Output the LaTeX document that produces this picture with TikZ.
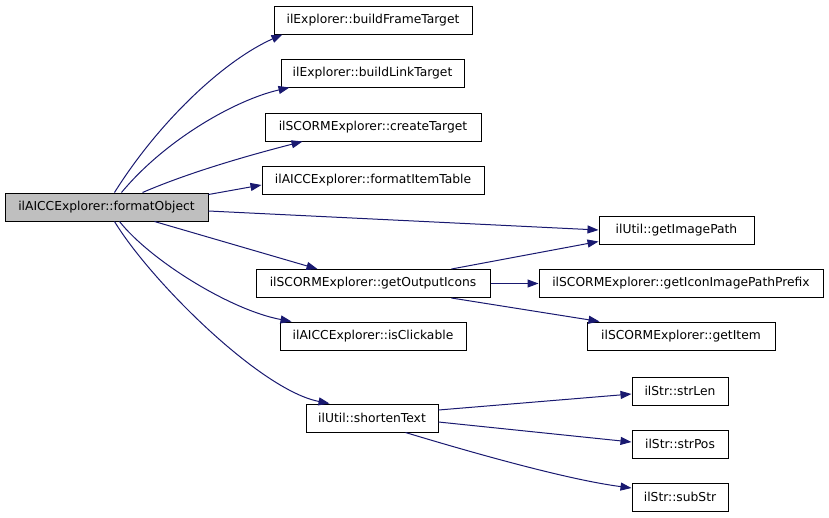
\documentclass[tikz,border=0pt]{standalone}
\usepackage{fontspec}
\setmainfont{DejaVu Sans}
\usetikzlibrary{arrows.meta,calc}
\definecolor{edgecol}{HTML}{191970}
\definecolor{rootfill}{HTML}{BFBFBF}
\begin{document}
\begin{tikzpicture}[x=1pt,y=-1pt,
  box/.style={draw=black,line width=1pt,fill=white,minimum height=28pt,inner sep=0pt,font=\fontsize{12.3}{14}\selectfont},
  edge/.style={draw=edgecol,line width=1pt,-{Triangle[length=11pt,width=8pt]}}]
\useasboundingbox (0,0) rectangle (829,517);
\node[box,fill=rootfill,minimum width=203pt] (fo) at (106.5,207) {ilAICCExplorer::formatObject};
\node[box,minimum width=198pt] (bft) at (373,20) {ilExplorer::buildFrameTarget};
\node[box,minimum width=183pt] (blt) at (372.5,73) {ilExplorer::buildLinkTarget};
\node[box,minimum width=216pt] (ct) at (373,127) {ilSCORMExplorer::createTarget};
\node[box,minimum width=222pt] (fit) at (373,180) {ilAICCExplorer::formatItemTable};
\node[box,minimum width=155pt] (gip) at (676.5,230) {ilUtil::getImagePath};
\node[box,minimum width=234pt] (goi) at (373,283.5) {ilSCORMExplorer::getOutputIcons};
\node[box,minimum width=284pt] (giipp) at (681,283.5) {ilSCORMExplorer::getIconImagePathPrefix};
\node[box,minimum width=186pt] (ic) at (373,336) {ilAICCExplorer::isClickable};
\node[box,minimum width=188pt] (gi) at (681,336) {ilSCORMExplorer::getItem};
\node[box,minimum width=132pt] (st) at (372,418) {ilUtil::shortenText};
\node[box,minimum width=96pt] (sl) at (680,391) {ilStr::strLen};
\node[box,minimum width=96pt] (sp) at (680,444) {ilStr::strPos};
\node[box,minimum width=96pt] (ss) at (680,497) {ilStr::subStr};

\draw[edge] ($(fo.north west)+(110,0)$) .. controls (160,120) and (225,60) .. ($(bft.south west)+(9,0)$);
\draw[edge] ($(fo.north west)+(117,0)$) .. controls (165,140) and (235,100) .. ($(blt.south west)+(9,0)$);
\draw[edge] ($(fo.north west)+(138,0)$) .. controls (190,172) and (250,155) .. ($(ct.south west)+(38,0)$);
\draw[edge] ($(fo.north east)+(0,2)$) -- ($(fit.west)+(0,5)$);
\draw[edge] ($(fo.east)+(0,4)$) -- (gip.west);
\draw[edge] ($(fo.south west)+(150,0)$) -- ($(goi.north west)+(62,0)$);
\draw[edge] ($(fo.south west)+(115,0)$) .. controls (150,260) and (230,310) .. ($(ic.north west)+(12,0)$);
\draw[edge] ($(fo.south west)+(110,0)$) .. controls (150,280) and (260,390) .. ($(st.north west)+(24,0)$);
\draw[edge] ($(goi.north west)+(196,0)$) -- ($(gip.south west)+(0,-3)$);
\draw[edge] (goi.east) -- (giipp.west);
\draw[edge] ($(goi.south west)+(196,0)$) -- ($(gi.north west)+(13,0)$);
\draw[edge] ($(st.east)+(0,-8)$) -- ($(sl.west)+(0,3)$);
\draw[edge] ($(st.east)+(0,4)$) -- ($(sp.west)+(0,-2)$);
\draw[edge] ($(st.south west)+(100,0)$) .. controls (480,455) and (570,480) .. ($(ss.west)+(0,-9)$);
\end{tikzpicture}
\end{document}
